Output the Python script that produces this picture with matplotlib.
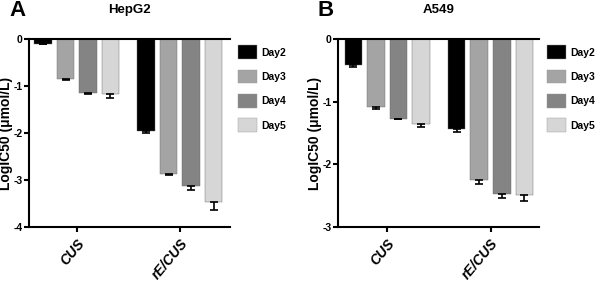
import numpy as np
from matplotlib import pyplot as plt
from matplotlib.patches import Patch

plt.rcParams['font.family'] = ['Liberation Sans', 'DejaVu Sans']

gruppi = ['CUS', 'rE/CUS']
giorni = ['Day2', 'Day3', 'Day4', 'Day5']
colori = ['#000000', '#a4a4a4', '#848484', '#d6d6d6']

# HepG2 (valori medi e errori per giorno, [CUS, rE/CUS])
hepg2 = {'Day2': [-0.10, -1.95], 'Day3': [-0.85, -2.86],
         'Day4': [-1.15, -3.12], 'Day5': [-1.18, -3.47]}
hepg2_err = {'Day2': [0.01, 0.04], 'Day3': [0.03, 0.04],
             'Day4': [0.03, 0.08], 'Day5': [0.07, 0.17]}

# A549
a549 = {'Day2': [-0.41, -1.44], 'Day3': [-1.09, -2.25],
        'Day4': [-1.27, -2.47], 'Day5': [-1.35, -2.49]}
a549_err = {'Day2': [0.03, 0.05], 'Day3': [0.03, 0.06],
            'Day4': [0.01, 0.07], 'Day5': [0.06, 0.09]}

fig = plt.figure(figsize=(6, 2.84), dpi=100)

pannelli = [
    ([0.048, 0.20, 0.335, 0.663], hepg2, hepg2_err, -4, 'HepG2', 'A', (-0.466, 1.485), -0.08, 0.04),
    ([0.563, 0.20, 0.335, 0.663], a549, a549_err, -3, 'A549', 'B', (-0.477, 1.467), -0.08, 0.04),
]

x = np.arange(len(gruppi))
passo = 0.218
larg = 0.17

for (pos, dati, errori, ymin, titolo, lettera, xl, ylx, lx) in pannelli:
    ax = fig.add_axes(pos)
    for i, g in enumerate(giorni):
        xx = x + (i - 1.5) * passo
        ax.bar(xx, dati[g], width=larg, color=colori[i], edgecolor='#666666',
               linewidth=0.3, zorder=2)
        ax.errorbar(xx, dati[g], yerr=[errori[g], [0, 0]], fmt='none',
                    ecolor='black', elinewidth=1.2, capsize=3, capthick=1.2, zorder=3)
    ax.set_ylim(ymin, 0)
    ax.set_xlim(*xl)
    ax.set_yticks(range(ymin, 1))
    ax.set_yticklabels([str(v) for v in range(ymin, 1)])
    ax.set_xticks(x)
    ax.set_xticklabels(gruppi, rotation=50, ha='right', rotation_mode='anchor',
                       fontstyle='italic', fontweight='bold', fontsize=10)
    for t in ax.get_yticklabels():
        t.set_fontweight('bold')
        t.set_fontsize(7.5)
    ax.spines['right'].set_visible(False)
    for s in ['left', 'bottom', 'top']:
        ax.spines[s].set_linewidth(1.5)
    ax.tick_params(axis='both', width=1.5, length=3.5, pad=1)
    ax.tick_params(axis='x', pad=3)
    ax.set_ylabel('LogIC50 (μmol/L)', fontweight='bold', fontsize=10)
    ax.yaxis.set_label_coords(ylx, 0.5)
    ax.set_title(titolo, fontweight='bold', fontsize=9.5, pad=19)
    fig.text(pos[0] - 0.033, 0.925, lettera, fontsize=16, fontweight='bold', va='bottom')

    maniglie = [Patch(facecolor=colori[i], edgecolor='#999999', linewidth=0.3, label=g)
                for i, g in enumerate(giorni)]
    ax.legend(handles=maniglie, loc='upper left', bbox_to_anchor=(1 + lx, 0.965),
              frameon=False, prop={'weight': 'bold', 'size': 7.5},
              handlelength=1.8, handleheight=1.6, labelspacing=1.05,
              handletextpad=0.4, borderaxespad=0, borderpad=0)

fig.savefig('out.png', dpi=100)
